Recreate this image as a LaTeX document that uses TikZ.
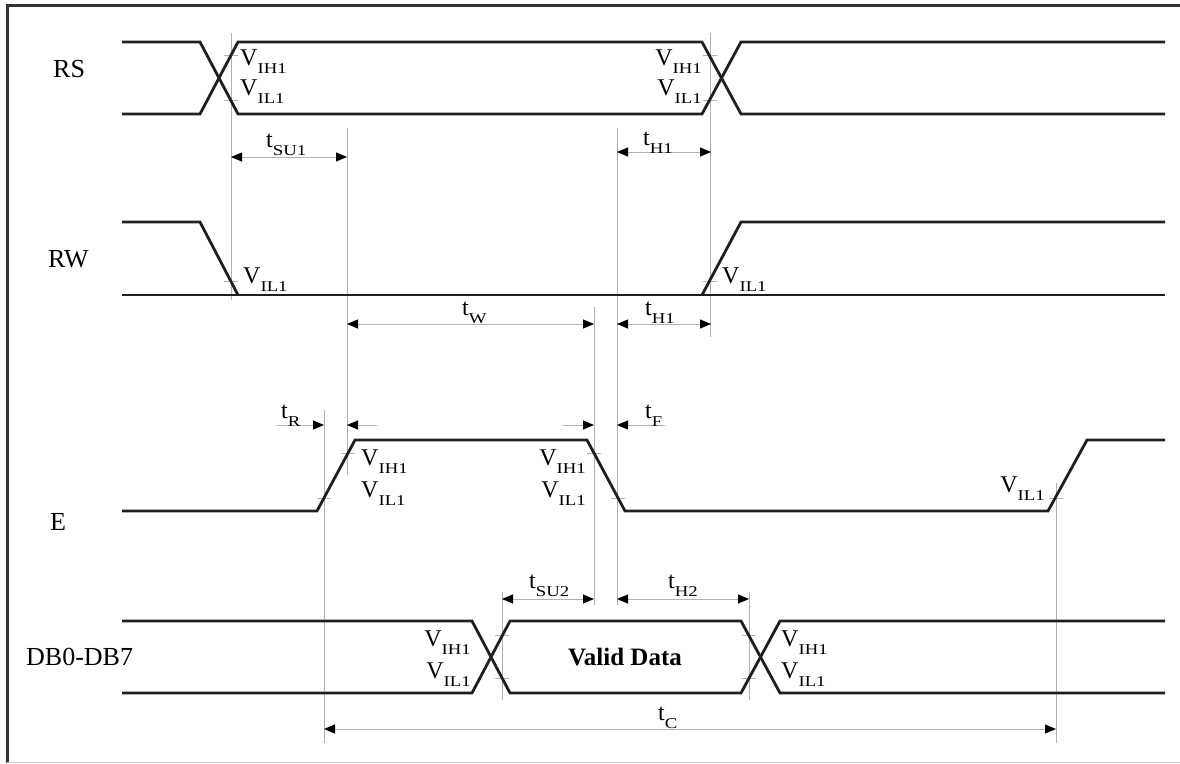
\documentclass[tikz,border=0pt]{standalone}
\usepackage{fontspec}
\setmainfont{Liberation Serif}
\newfontfamily\subfont[FakeStretch=1.25]{Liberation Serif}
\usetikzlibrary{arrows.meta}
\newcommand\lsub[1]{\raisebox{-8pt}{\subfont\fontsize{15}{15}\selectfont #1}}
\newcommand\VV[1]{V\lsub{#1}}
\newcommand\TT[1]{t\lsub{#1}}
\begin{document}
\begin{tikzpicture}[x=1pt,y=-1pt,
  sig/.style={line width=2.8pt, color=black!88, line join=miter},
  guide/.style={line width=1pt, color=black!30},
  tickm/.style={line width=1pt, color=black!30},
  dimarrow/.style={line width=1pt, color=black!30, {Triangle[length=11pt,width=9pt,color=black]}-{Triangle[length=11pt,width=9pt,color=black]}},
  onearrow/.style={line width=1pt, color=black!30, -{Triangle[length=11pt,width=9pt,color=black]}},
  siglab/.style={anchor=base west, inner sep=0pt, font=\fontsize{26}{28}\selectfont},
  vlab/.style={inner sep=0pt, font=\fontsize{24}{26}\selectfont},
  tlab/.style={anchor=base west, inner sep=0pt, font=\fontsize{24}{26}\selectfont}
]
\useasboundingbox (0,0) rectangle (1180,763);
% frame
\draw[line width=3pt, black!80] (7,763) -- (7,5) -- (1180,5);
\draw[line width=1pt, black!20] (7,762) -- (1180,762);

% signal names
\node[siglab] (nRS) at (53,77) {RS};
\node[siglab] (nRW) at (48,267) {RW};
\node[siglab] (nE) at (50,530) {E};
\node[siglab] (nDB) at (26,665) {DB0-DB7};

% guide lines
\draw[guide] (231,33) -- (231,300);
\draw[guide] (710,33) -- (710,337);
\draw[guide] (347,128) -- (347,475);
\draw[guide] (617,128) -- (617,605);
\draw[guide] (594,307) -- (594,605);
\draw[guide] (324,410) -- (324,743);
\draw[guide] (1056,483) -- (1056,743);
\draw[guide] (502,592) -- (502,700);
\draw[guide] (749,592) -- (749,700);

% threshold ticks
\foreach \x/\y in {231/55,231/100,710/55,710/100,231/281,710/281,
                   324/498,348/453,594/453,618/498,1056/498,
                   502/635,502/678,749/635,749/678}
  \draw[tickm] (\x-7,\y) -- (\x+7,\y);

% RS
\draw[sig] (122,42) -- (200,42) -- (238,114) -- (702,114) -- (741,42) -- (1165,42);
\draw[sig] (122,114) -- (200,114) -- (238,42) -- (702,42) -- (741,114) -- (1165,114);
% RW
\draw[sig] (122,295) -- (1165,295);
\draw[sig] (122,222) -- (200,222) -- (238,295);
\draw[sig] (702,295) -- (741,222) -- (1165,222);
% E
\draw[sig] (122,511) -- (317,511) -- (355,440) -- (587,440) -- (625,511) -- (1048,511) -- (1087,440) -- (1165,440);
% DB
\draw[sig] (122,621) -- (472,621) -- (510,693) -- (741,693) -- (780,621) -- (1165,621);
\draw[sig] (122,693) -- (472,693) -- (510,621) -- (741,621) -- (780,693) -- (1165,693);

% V labels
\node[vlab, anchor=base west] (v1) at (240,65) {\VV{IH1}};
\node[vlab, anchor=base west] (v2) at (240,95) {\VV{IL1}};
\node[vlab, anchor=base east] (v3) at (702,65) {\VV{IH1}};
\node[vlab, anchor=base east] (v4) at (702,95) {\VV{IL1}};
\node[vlab, anchor=base west] (v5) at (243,283) {\VV{IL1}};
\node[vlab, anchor=base west] (v6) at (722,283) {\VV{IL1}};
\node[vlab, anchor=base west] (v7) at (361,465) {\VV{IH1}};
\node[vlab, anchor=base west] (v8) at (361,497) {\VV{IL1}};
\node[vlab, anchor=base east] (v9) at (586,465) {\VV{IH1}};
\node[vlab, anchor=base east] (v10) at (586,497) {\VV{IL1}};
\node[vlab, anchor=base east] (v11) at (1045,492) {\VV{IL1}};
\node[vlab, anchor=base east] (v12) at (471,646) {\VV{IH1}};
\node[vlab, anchor=base east] (v13) at (471,678) {\VV{IL1}};
\node[vlab, anchor=base west] (v14) at (781,646) {\VV{IH1}};
\node[vlab, anchor=base west] (v15) at (781,678) {\VV{IL1}};

\node[inner sep=0pt, font=\bfseries\fontsize{25}{27}\selectfont] (vd) at (625,657) {Valid Data};

% dimension arrows
\coordinate (su1a) at (231,157); \coordinate (su1b) at (347,157);
\draw[dimarrow] (su1a) -- (su1b);
\node[tlab] (tsu1) at (266,147) {\TT{SU1}};

\coordinate (h1a) at (617,152); \coordinate (h1b) at (711,152);
\draw[dimarrow] (h1a) -- (h1b);
\node[tlab] (th1) at (643,145) {\TT{H1}};

\coordinate (wa) at (347,324); \coordinate (wb) at (594,324);
\draw[dimarrow] (wa) -- (wb);
\node[tlab] (tw) at (462,315) {\TT{W}};

\coordinate (h1c) at (617,324); \coordinate (h1d) at (711,324);
\draw[dimarrow] (h1c) -- (h1d);
\node[tlab] (th1b) at (645,315) {\TT{H1}};

\coordinate (ra) at (277,425); \coordinate (rb) at (324,425);
\coordinate (rc) at (377,425); \coordinate (rd) at (347,425);
\draw[onearrow] (ra) -- (rb);
\draw[onearrow] (rc) -- (rd);
\node[tlab] (tr) at (281,418) {\TT{R}};

\coordinate (fa) at (563,425); \coordinate (fb) at (594,425);
\coordinate (fc) at (665,425); \coordinate (fd) at (617,425);
\draw[onearrow] (fa) -- (fb);
\draw[onearrow] (fc) -- (fd);
\node[tlab] (tf) at (645,418) {\TT{F}};

\coordinate (su2a) at (502,599); \coordinate (su2b) at (594,599);
\draw[dimarrow] (su2a) -- (su2b);
\node[tlab] (tsu2) at (529,588) {\TT{SU2}};

\coordinate (h2a) at (617,599); \coordinate (h2b) at (749,599);
\draw[dimarrow] (h2a) -- (h2b);
\node[tlab] (th2) at (668,588) {\TT{H2}};

\coordinate (ca) at (324,729); \coordinate (cb) at (1056,729);
\draw[dimarrow] (ca) -- (cb);
\node[tlab] (tc) at (658,720) {\TT{C}};
\end{tikzpicture}
\end{document}
